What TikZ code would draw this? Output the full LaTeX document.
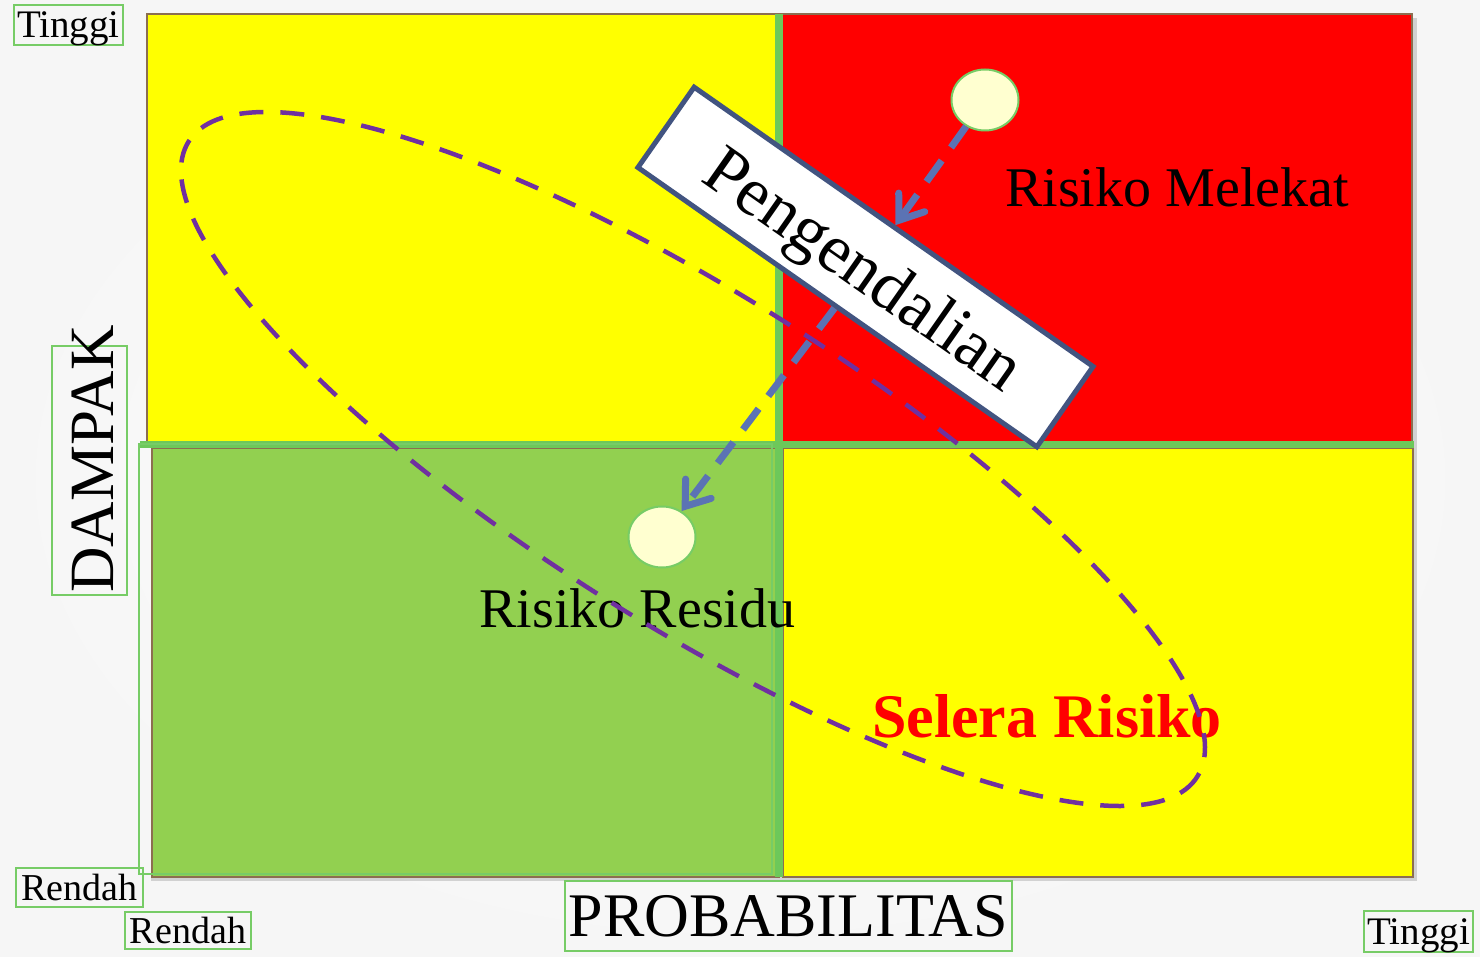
\documentclass[tikz,border=0pt]{standalone}
\usepackage{fontspec}
\setmainfont{Liberation Serif}
\usetikzlibrary{arrows.meta,shapes.geometric}
\definecolor{qyellow}{RGB}{255,255,0}
\definecolor{qred}{RGB}{255,0,0}
\definecolor{qgreen}{RGB}{146,208,80}
\definecolor{sepgreen}{RGB}{109,200,90}
\definecolor{framegreen}{RGB}{119,204,102}
\definecolor{brownline}{RGB}{140,110,80}
\definecolor{cream}{RGB}{255,255,208}
\definecolor{boxblue}{RGB}{66,84,128}
\definecolor{arrowblue}{RGB}{91,115,180}
\definecolor{ellpurple}{RGB}{112,48,160}
\newcommand\myfs[1]{\fontsize{#1}{#1}\selectfont}
\tikzset{
  quad/.style={draw=brownline, line width=1.2pt},
  lbl/.style={draw=framegreen, line width=1.5pt, inner sep=0pt, text depth=0pt},
  dot/.style={ellipse, draw=framegreen, fill=cream, line width=2pt, minimum width=67pt, minimum height=61pt, inner sep=0pt},
  ctrl/.style={draw=boxblue, fill=white, line width=5pt, minimum width=487pt, minimum height=98pt, inner sep=0pt, text depth=0pt, font=\myfs{69}},
  flow/.style={draw=arrowblue, line width=7pt, dash pattern=on 26pt off 16pt, -{Straight Barb[length=22pt, width=32pt, line cap=round]}},
  ellip/.style={draw=ellpurple, line width=4.5pt, dash pattern=on 24pt off 17pt},
  big/.style={inner sep=0pt, anchor=base, font=\myfs{56}}
}
\begin{document}
\begin{tikzpicture}[x=1pt,y=-1pt]
\useasboundingbox (0,0) rectangle (1480,957);
\shade[inner color=white, outer color=gray!7] (0,0) rectangle (1480,957);
% shadow
\fill[black, opacity=.15] (151,18) rectangle (1417,881);
% quadrants
\filldraw[quad, fill=qyellow] (147,14) rectangle (779,442);
\filldraw[quad, fill=qred] (779,14) rectangle (1412,442);
\filldraw[quad, fill=qgreen] (152,448) rectangle (779,877);
\filldraw[quad, fill=qyellow] (783,448) rectangle (1413,877);
\fill[sepgreen] (140,441) rectangle (1414,448);
\fill[sepgreen] (775,14) rectangle (783,877);
\draw[framegreen, line width=1.5pt] (139,444) rectangle (772,874);
% axis labels
\node[lbl, minimum width=109pt, minimum height=40pt, font=\myfs{39}] (tinggiA) at (68.5,25) {Tinggi};
\node[lbl, minimum width=127pt, minimum height=39pt, font=\myfs{38}] (rendahA) at (79.5,887.5) {Rendah};
\node[lbl, minimum width=126pt, minimum height=37pt, font=\myfs{38}] (rendahB) at (188,930.5) {Rendah};
\node[lbl, minimum width=109pt, minimum height=41pt, font=\myfs{39}] (tinggiB) at (1418.5,931.5) {Tinggi};
\node[lbl, minimum width=447pt, minimum height=70pt, font=\myfs{62}] (prob) at (788.5,916) {PROBABILITAS};
\node[lbl, rotate=90, minimum width=249pt, minimum height=75pt] (dampakbox) at (89.5,470.5) {};
\node[inner sep=0pt, text depth=0pt, rotate=90, font=\myfs{63}] (dampak) at (92.5,459) {DAMPAK};
% quadrant texts
\node[big] (melekat) at (1177,207) {Risiko Melekat};
\node[big] (residu) at (637.5,627) {Risiko Residu};
\node[big, text=qred, font=\myfs{62}\bfseries] (selera) at (1047,737) {Selera Risiko};
% appetite ellipse
\draw[ellip, rotate around={-32.2:(693,459)}] (693,459) ellipse [x radius=596, y radius=165];
% points
\node[dot] (c1) at (985,100) {};
\node[dot] (c2) at (662,537) {};
% control box
\node[ctrl, rotate=-35] (box) at (865.5,267) {Pengendalian};
\draw[flow] (c1) -- (box);
\draw[flow] (box) -- (c2);
\end{tikzpicture}
\end{document}
